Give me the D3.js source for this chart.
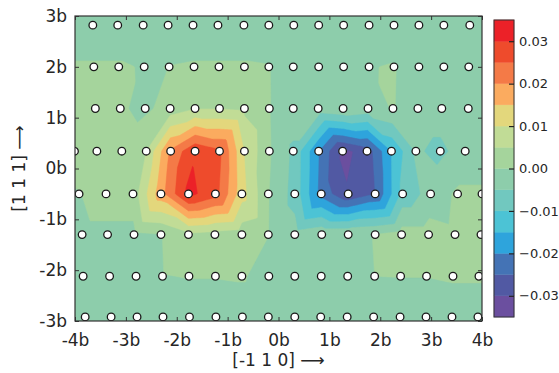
<!DOCTYPE html>
<html>
<head>
<meta charset="utf-8">
<title>Contour</title>
<script src="https://cdn.jsdelivr.net/npm/d3@7"></script>
<style>
  body { margin: 0; background: #fff; }
  text { font-family: "DejaVu Sans", sans-serif; fill: #262626; }
</style>
</head>
<body>
<svg width="559" height="373" id="mainsvg"></svg>
<script>
// atom rows (units of b). first/last entries of each row and the top/bottom rows sit outside the frame
const rowY = [3.64, 2.82, 2.0, 1.18, 0.34, -0.50, -1.30, -2.12, -2.92, -3.72];
const rowX = [
  [-4.14,-3.65,-3.16,-2.66,-2.17,-1.68,-1.19,-0.68,-0.19,0.30,0.79,1.28,1.78,2.27,2.76,3.25,3.76,4.25],
  [-4.14,-3.65,-3.16,-2.66,-2.17,-1.68,-1.19,-0.68,-0.19,0.30,0.79,1.28,1.78,2.27,2.76,3.25,3.76,4.25],
  [-4.12,-3.63,-3.14,-2.64,-2.15,-1.66,-1.17,-0.67,-0.19,0.29,0.79,1.28,1.78,2.27,2.76,3.25,3.74,4.23],
  [-4.09,-3.60,-3.11,-2.62,-2.13,-1.64,-1.16,-0.67,-0.18,0.29,0.78,1.27,1.76,2.25,2.74,3.21,3.73,4.22],
  [-4.49,-4.01,-3.57,-3.08,-2.60,-2.12,-1.64,-1.16,-0.67,-0.18,0.29,0.79,1.26,1.74,2.22,2.70,3.18,3.67,4.15],
  [-4.45,-3.92,-3.39,-2.86,-2.31,-1.77,-1.24,-0.72,-0.20,0.32,0.84,1.37,1.90,2.44,2.99,3.52,4.00,4.53],
  [-4.38,-3.86,-3.36,-2.84,-2.31,-1.77,-1.25,-0.72,-0.20,0.32,0.85,1.37,1.90,2.42,2.95,3.47,3.98,4.50],
  [-4.36,-3.84,-3.32,-2.80,-2.28,-1.76,-1.24,-0.72,-0.19,0.32,0.84,1.36,1.89,2.40,2.91,3.43,3.94,4.46],
  [-4.32,-3.80,-3.29,-2.78,-2.27,-1.75,-1.23,-0.71,-0.20,0.32,0.83,1.35,1.87,2.39,2.90,3.41,3.92,4.44],
  [-4.32,-3.80,-3.29,-2.78,-2.27,-1.75,-1.23,-0.71,-0.20,0.32,0.83,1.35,1.87,2.39,2.90,3.41,3.92,4.44]
];
const rowV = [
  [-0.003,-0.003,-0.003,-0.003,-0.003,-0.003,-0.003,-0.003,-0.003,-0.003,-0.003,-0.003,-0.003,-0.003,-0.003,-0.003,-0.003,-0.003],
  [-0.003,-0.003,-0.003,-0.003,-0.003,-0.003,-0.003,-0.003,-0.003,-0.003,-0.003,-0.003,-0.003,-0.003,-0.003,-0.003,-0.003,-0.003],
  [0.0005,0.0005,0.0005,-0.0003,0.0001,0.0005,0.0005,0.0005,0.0002,-0.003,-0.003,-0.003,-0.0002,0.0003,-0.003,-0.003,-0.003,-0.003],
  [0.002,0.002,0.0005,-0.001,0.002,0.0048,0.0048,0.004,0.0002,-0.002,-0.002,-0.0005,-0.002,0.0003,-0.003,-0.003,-0.003,-0.003],
  [0.002,0.002,0.002,0.002,0.005,0.021,0.0293,0.026,0.0098,0.0005,-0.006,-0.020,-0.0315,-0.028,-0.015,-0.0045,-0.006,-0.003,-0.003],
  [-0.001,-0.0002,0.002,0.002,0.018,0.0315,0.027,0.012,0.0002,-0.007,-0.022,-0.0295,-0.025,-0.0085,-0.003,0.0008,0.0008,0.0008],
  [-0.001,-0.001,-0.001,-0.001,-0.0002,0.004,0.003,0.002,0.0001,-0.003,-0.001,-0.0008,0.0001,0.002,0.002,0.001,0.001,0.001],
  [-0.003,-0.003,-0.003,-0.003,-0.0002,0.0002,0.0002,0.0005,-0.002,-0.003,-0.003,-0.003,0.0,0.0001,0.0001,0.0006,0.0006,0.0006],
  [-0.003,-0.003,-0.003,-0.003,-0.003,-0.003,-0.003,-0.003,-0.003,-0.003,-0.003,-0.003,-0.003,-0.003,-0.003,-0.003,-0.003,-0.003],
  [-0.003,-0.003,-0.003,-0.003,-0.003,-0.003,-0.003,-0.003,-0.003,-0.003,-0.003,-0.003,-0.003,-0.003,-0.003,-0.003,-0.003,-0.003]
];
const levels = [-0.035,-0.03,-0.025,-0.02,-0.015,-0.01,-0.005,0,0.005,0.01,0.015,0.02,0.025,0.03,0.035];
const bandColors = ['#6b4f9f','#5159a3','#4473b5','#2ea4dc','#4cc3d5','#71c8bf','#8dcdab',
                    '#a5d49c','#c1dc96','#e3d77c','#fbab5f','#f47a47','#ee4b2c','#ec2128'];
const xTicks = [-4,-3,-2,-1,0,1,2,3,4];
const yTicks = [-3,-2,-1,0,1,2,3];
const cbTicks = [-0.03,-0.02,-0.01,0,0.01,0.02,0.03];

const svg = d3.select('#mainsvg');
const margin = {top: 16, left: 75};
const innerWidth = 407, innerHeight = 305;

const xScale = d3.scaleLinear().domain([-4, 4]).range([0, innerWidth]);
const yScale = d3.scaleLinear().domain([-3, 3]).range([innerHeight, 0]);

const g = svg.append('g').attr('transform', `translate(${margin.left}, ${margin.top})`);
g.append('clipPath').attr('id', 'clip').append('rect')
  .attr('width', innerWidth).attr('height', innerHeight);

// atoms -> triangulation -> linear field on a pixel grid
const atoms = [];
rowY.forEach((yy, r) => rowX[r].forEach((xx, k) => atoms.push({x: xx, y: yy, v: rowV[r][k]})));
const pxy = atoms.map(d => [xScale(d.x), yScale(d.y)]);
const tri = d3.Delaunay.from(pxy).triangles;
const nx = innerWidth, ny = innerHeight;
const grid = new Float64Array(nx * ny).fill(-0.003);
for (let t = 0; t < tri.length; t += 3) {
  const a = tri[t], b = tri[t + 1], c = tri[t + 2];
  const [x1, y1] = pxy[a], [x2, y2] = pxy[b], [x3, y3] = pxy[c];
  const det = (y2 - y3) * (x1 - x3) + (x3 - x2) * (y1 - y3);
  if (Math.abs(det) < 1e-9) continue;
  const i0 = Math.max(0, Math.floor(Math.min(x1, x2, x3))), i1 = Math.min(nx - 1, Math.ceil(Math.max(x1, x2, x3)));
  const j0 = Math.max(0, Math.floor(Math.min(y1, y2, y3))), j1 = Math.min(ny - 1, Math.ceil(Math.max(y1, y2, y3)));
  for (let j = j0; j <= j1; j++) {
    for (let i = i0; i <= i1; i++) {
      const cx = i + 0.5, cy = j + 0.5;
      const l1 = ((y2 - y3) * (cx - x3) + (x3 - x2) * (cy - y3)) / det;
      const l2 = ((y3 - y1) * (cx - x3) + (x1 - x3) * (cy - y3)) / det;
      const l3 = 1 - l1 - l2;
      if (l1 >= -1e-9 && l2 >= -1e-9 && l3 >= -1e-9) {
        grid[j * nx + i] = l1 * atoms[a].v + l2 * atoms[b].v + l3 * atoms[c].v;
      }
    }
  }
}

const contours = d3.contours().size([nx, ny]).thresholds(levels.slice(0, 14))(grid);
g.append('g').attr('clip-path', 'url(#clip)')
  .selectAll('path').data(contours).join('path')
  .attr('d', d3.geoPath())
  .attr('fill', (d, i) => bandColors[i])
  .attr('stroke', (d, i) => bandColors[i])
  .attr('stroke-width', 0.5);

// atoms
g.append('g').attr('clip-path', 'url(#clip)')
  .selectAll('circle').data(atoms).join('circle')
  .attr('cx', d => xScale(d.x))
  .attr('cy', d => yScale(d.y))
  .attr('r', 3.8)
  .attr('fill', '#fff')
  .attr('stroke', '#1a1a1a')
  .attr('stroke-width', 1.3);

// axes, ticks pointing in
const styleAxis = size => sel => {
  sel.attr('font-size', null).attr('font-family', null);
  sel.select('.domain').remove();
  sel.selectAll('line').attr('stroke', '#333');
  sel.selectAll('text').style('font-size', size + 'px').style('fill', '#262626');
};
g.append('g').attr('transform', `translate(0, ${innerHeight})`)
  .call(d3.axisBottom(xScale).tickValues(xTicks).tickSize(-4).tickPadding(13).tickFormat(d => d + 'b'))
  .call(styleAxis(17));
g.append('g')
  .call(d3.axisLeft(yScale).tickValues(yTicks).tickSize(-4).tickPadding(8).tickFormat(d => d + 'b'))
  .call(styleAxis(17));
g.append('g')
  .call(d3.axisTop(xScale).tickValues(xTicks).tickSize(-4).tickFormat(''))
  .call(styleAxis(17));
g.append('g').attr('transform', `translate(${innerWidth}, 0)`)
  .call(d3.axisRight(yScale).tickValues(yTicks).tickSize(-4).tickFormat(''))
  .call(styleAxis(17));

g.append('rect').attr('width', innerWidth).attr('height', innerHeight)
  .attr('fill', 'none').attr('stroke', '#333').attr('stroke-width', 1.2);

svg.append('text').attr('x', margin.left + innerWidth / 2).attr('y', 366)
  .attr('text-anchor', 'middle').style('font-size', '17px').text('[-1 1 0] \u27F6');
svg.append('text').attr('transform', `translate(25, ${margin.top + innerHeight / 2}) rotate(-90)`)
  .attr('text-anchor', 'middle').style('font-size', '17px').text('[1 1 1] \u27F6');

// colorbar
const cbX = 494, cbW = 20;
const cbScale = d3.scaleLinear().domain([-0.035, 0.035]).range([317, 20]);
const cb = svg.append('g');
cb.selectAll('rect').data(bandColors).join('rect')
  .attr('x', cbX)
  .attr('y', (d, i) => cbScale(levels[i + 1]))
  .attr('width', cbW)
  .attr('height', (d, i) => cbScale(levels[i]) - cbScale(levels[i + 1]))
  .attr('fill', d => d).attr('stroke', d => d).attr('stroke-width', 0.4);
cb.append('rect').attr('x', cbX).attr('y', 20).attr('width', cbW).attr('height', 297)
  .attr('fill', 'none').attr('stroke', '#333').attr('stroke-width', 1);
cb.append('g').attr('transform', `translate(${cbX + cbW}, 0)`)
  .call(d3.axisRight(cbScale).tickValues(cbTicks).tickSize(-5).tickPadding(5).tickFormat(d3.format('.2f')))
  .call(sel => {
    sel.attr('font-size', null).attr('font-family', null);
    sel.select('.domain').remove();
    sel.selectAll('line').attr('stroke', '#222').attr('stroke-width', 1.2);
    sel.selectAll('text').style('font-size', '13px').style('fill', '#262626');
  });
</script>
</body>
</html>
